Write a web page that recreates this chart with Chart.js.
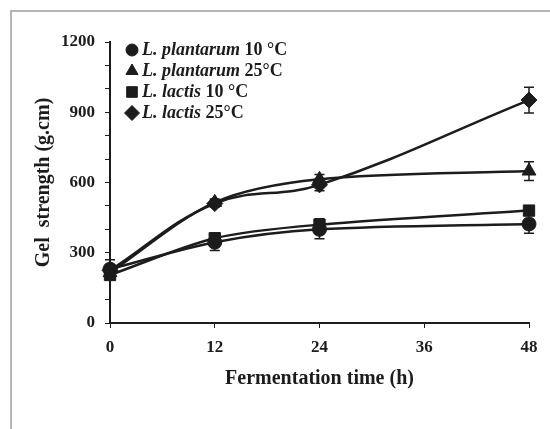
<!DOCTYPE html>
<html>
<head>
<meta charset="utf-8">
<script src="https://cdn.jsdelivr.net/npm/chart.js@4.4.0/dist/chart.umd.min.js"></script>
<style>
    body { margin: 0; background: #fff; }
    #wrap { position: relative; width: 550px; height: 429px; overflow: hidden; }
    #frame { position: absolute; left: 10px; top: 10px; width: 600px; height: 500px; border: 2px solid #b5b5b5; box-sizing: border-box; }
    canvas { position: absolute; left: 0; top: 0; }
</style>
</head>
<body>
<div id="wrap">
    <div id="frame"></div>
    <canvas id="chart" width="550" height="429"></canvas>
</div>
<script>
const hours = [0, 12, 24, 48];
const seriesNames = ['L. plantarum', 'L. plantarum', 'L. lactis', 'L. lactis'];
const seriesTemps = [' 10 °C', ' 25°C', ' 10 °C', ' 25°C'];
const plantarum10 = [230, 345, 400, 423];
const plantarum25 = [215, 515, 614, 649];
const lactis10 = [205, 362, 420, 480];
const lactis25 = [225, 510, 590, 952];
const plantarum10Err = [40, 35, 40, 40];
const plantarum25Err = [20, 15, 20, 40];
const lactis10Err = [20, 20, 25, 20];
const lactis25Err = [25, 15, 25, 55];
const yTickLabels = [0, 300, 600, 900, 1200];

const ink = '#1c1c1c';
const serif = '"Liberation Serif", "Times New Roman", serif';

function makeSet(values, errs, style, radius, tension) {
    return {
        data: hours.map((h, i) => ({ x: h, y: values[i] })),
        errors: errs,
        borderColor: ink,
        backgroundColor: ink,
        borderWidth: 2.5,
        pointStyle: style,
        pointRadius: radius,
        pointBorderWidth: 1,
        tension: tension,
        clip: false,
        fill: false
    };
}

const errorBars = {
    id: 'errorBars',
    afterDatasetsDraw(chart) {
        const ctx = chart.ctx;
        const y = chart.scales.y;
        const x = chart.scales.x;
        ctx.save();
        ctx.strokeStyle = ink;
        ctx.lineWidth = 1.5;
        chart.data.datasets.forEach(ds => {
            ds.data.forEach((p, i) => {
                const px = x.getPixelForValue(p.x);
                const top = y.getPixelForValue(p.y + ds.errors[i]);
                const bot = y.getPixelForValue(p.y - ds.errors[i]);
                ctx.beginPath();
                ctx.moveTo(px, top); ctx.lineTo(px, bot);
                ctx.moveTo(px - 5, top); ctx.lineTo(px + 5, top);
                ctx.moveTo(px - 5, bot); ctx.lineTo(px + 5, bot);
                ctx.stroke();
            });
        });
        ctx.restore();
    }
};

const legendBox = {
    id: 'legendBox',
    afterDraw(chart) {
        const ctx = chart.ctx;
        const styles = ['circle', 'triangle', 'rect', 'rectRot'];
        const sizes = [6, 7, 7.5, 7.5];
        ctx.save();
        ctx.textBaseline = 'middle';
        styles.forEach((s, i) => {
            const cy = 50 + i * 21;
            ctx.fillStyle = ink;
            ctx.strokeStyle = ink;
            Chart.helpers.drawPoint(ctx, { pointStyle: s, radius: sizes[i], borderWidth: 1 }, 132, cy);
            ctx.fillStyle = ink;
            ctx.font = 'italic bold 18px ' + serif;
            ctx.fillText(seriesNames[i], 142, cy);
            const w = ctx.measureText(seriesNames[i]).width;
            ctx.font = 'bold 18px ' + serif;
            ctx.fillText(seriesTemps[i], 142 + w, cy);
        });
        ctx.restore();
    }
};

new Chart(document.getElementById('chart'), {
    type: 'line',
    data: {
        datasets: [
            makeSet(plantarum10, plantarum10Err, 'circle', 7, 0.3),
            makeSet(plantarum25, plantarum25Err, 'triangle', 8, 0.3),
            makeSet(lactis10, lactis10Err, 'rect', 8, 0.3),
            makeSet(lactis25, lactis25Err, 'rectRot', 8, 0.4)
        ]
    },
    options: {
        responsive: false,
        animation: false,
        layout: { padding: { left: 32, right: 21, top: 42, bottom: 34 } },
        plugins: { legend: { display: false }, tooltip: { enabled: false } },
        scales: {
            x: {
                type: 'linear',
                min: 0, max: 48,
                grid: { drawOnChartArea: false, color: ink, tickLength: 5 },
                border: { color: ink, width: 2 },
                ticks: { stepSize: 12, color: ink, font: { family: serif, size: 17, weight: 'bold' }, padding: 9 },
                title: { display: true, text: 'Fermentation time (h)', color: ink, font: { family: serif, size: 20, weight: 'bold' }, padding: { top: 0 } },
                afterFit(s) { s.height = 72; }
            },
            y: {
                min: 0, max: 1200,
                grid: { drawOnChartArea: false, color: ink, tickLength: 5 },
                border: { color: ink, width: 2 },
                ticks: {
                    stepSize: 100,
                    color: ink,
                    font: { family: serif, size: 17, weight: 'bold' },
                    padding: 10,
                    callback: v => yTickLabels.includes(v) ? v : ''
                },
                title: { display: true, text: 'Gel  strength (g.cm)', color: ink, font: { family: serif, size: 20, weight: 'bold' }, padding: 0 },
                afterFit(s) { s.width = 78; }
            }
        }
    },
    plugins: [errorBars, legendBox]
});
</script>
</body>
</html>
